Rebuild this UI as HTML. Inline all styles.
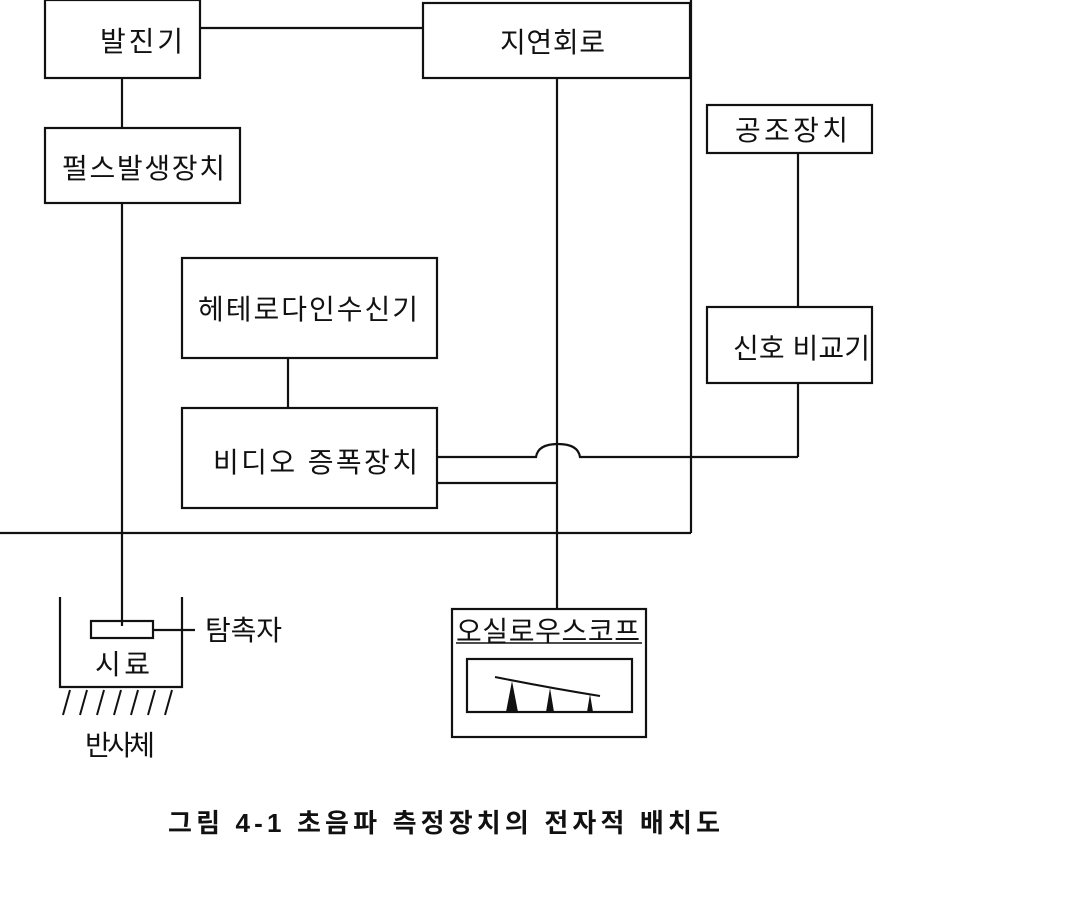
<!DOCTYPE html>
<html><head><meta charset="utf-8"><style>
body{margin:0;background:#fff;}
svg text{font-family:"Liberation Sans","Noto Sans CJK KR","NanumGothic",sans-serif;fill:#111;}
</style></head><body>
<svg width="1066" height="910" viewBox="0 0 1066 910" xmlns="http://www.w3.org/2000/svg">
<g fill="none" stroke="#111" stroke-width="2.2">
<rect x="45" y="0" width="155" height="78"/>
<rect x="423" y="3" width="267" height="75"/>
<line x1="200" y1="28" x2="423" y2="28"/>
<line x1="691" y1="0" x2="691" y2="533"/>
<line x1="0" y1="533" x2="691" y2="533"/>
<rect x="45" y="128" width="195" height="75"/>
<line x1="122" y1="78" x2="122" y2="128"/>
<line x1="122" y1="203" x2="122" y2="626"/>
<rect x="707" y="105" width="165" height="48"/>
<line x1="798" y1="153" x2="798" y2="307"/>
<rect x="707" y="307" width="165" height="76"/>
<line x1="798" y1="383" x2="798" y2="457"/>
<rect x="182" y="258" width="255" height="100"/>
<line x1="288" y1="358" x2="288" y2="408"/>
<rect x="182" y="408" width="255" height="100"/>
<path d="M798 457 H580 Q578 444 558 444 Q538 444 536 457 H437"/>
<line x1="437" y1="483" x2="557" y2="483"/>
<line x1="557" y1="78" x2="557" y2="609"/>
<rect x="452" y="609" width="194" height="128"/>
<rect x="467" y="659" width="165" height="53"/>
<line x1="456" y1="643" x2="642" y2="643" stroke-width="1.5"/>
<path d="M495 677 Q550 688 600 696" stroke-width="2"/>
<path d="M60 597 V687 H182 V597"/>
<rect x="91" y="621" width="62" height="17"/>
<line x1="153" y1="630" x2="195" y2="630"/>
<g stroke-width="2">
<line x1="70" y1="690" x2="63" y2="715"/><line x1="87" y1="690" x2="80" y2="715"/>
<line x1="104" y1="690" x2="97" y2="715"/><line x1="121" y1="690" x2="114" y2="715"/>
<line x1="138" y1="690" x2="131" y2="715"/><line x1="155" y1="690" x2="148" y2="715"/>
<line x1="172" y1="690" x2="165" y2="715"/>
</g>
</g>
<g fill="#111">
<path d="M512 681 L518 712 L506 712 Z"/>
<path d="M550 688 L554 712 L546 712 Z"/>
<path d="M590 694 L593 712 L587 712 Z"/>
</g>
<g font-size="28" lengthAdjust="spacing">
<text x="100" y="51" textLength="83">발진기</text>
<text x="500" y="52" textLength="105">지연회로</text>
<text x="62" y="178" textLength="163">펄스발생장치</text>
<text x="735" y="140" textLength="113">공조장치</text>
<text x="733" y="358" textLength="137">신호 비교기</text>
<text x="198" y="319" textLength="220">헤테로다인수신기</text>
<text x="213" y="472" textLength="205">비디오 증폭장치</text>
<text x="456" y="641" textLength="184">오실로우스코프</text>
<text x="95" y="674" textLength="55">시료</text>
<text x="85" y="755" textLength="70">반사체</text>
<text x="205" y="640" textLength="77">탐촉자</text>
<text x="168" y="832" textLength="552" font-weight="bold" font-size="26">그림 4-1  초음파 측정장치의 전자적 배치도</text>
</g>
</svg>
</body></html>
